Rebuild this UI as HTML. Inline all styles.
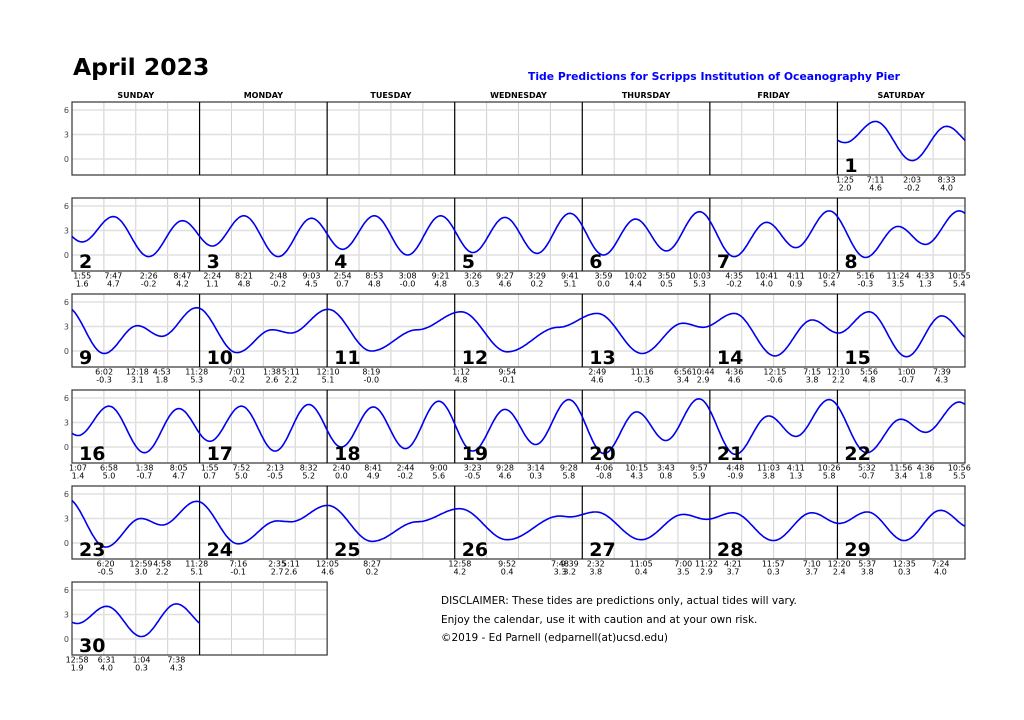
<!DOCTYPE html>
<html><head><meta charset="utf-8"><style>
body{margin:0;background:#fff;font-family:"DejaVu Sans","Liberation Sans",sans-serif;}
#c{position:relative;width:1024px;height:720px;overflow:hidden}
</style></head><body>
<div id="c">
<svg id="s" width="1024" height="720" xmlns="http://www.w3.org/2000/svg">
<text x="73" y="75" font-size="23.5" font-weight="bold" font-family="DejaVu Sans, sans-serif">April 2023</text>
<text x="900" y="80" font-size="10.8" font-weight="bold" fill="#0000ff" text-anchor="end" font-family="DejaVu Sans, sans-serif">Tide Predictions for Scripps Institution of Oceanography Pier</text>
<g font-size="10.5" font-family="DejaVu Sans, sans-serif" fill="#000">
<text x="441" y="604">DISCLAIMER: These tides are predictions only, actual tides will vary.</text>
<text x="441" y="623">Enjoy the calendar, use it with caution and at your own risk.</text>
<text x="441" y="641">©2019 - Ed Parnell (edparnell(at)ucsd.edu)</text>
</g>
</svg>
</div>
<script>
const dayNames=['SUNDAY','MONDAY','TUESDAY','WEDNESDAY','THURSDAY','FRIDAY','SATURDAY'];
const tideDays=[0,1,1,1,1,2,2,2,2,3,3,3,3,4,4,4,4,5,5,5,5,6,6,6,6,7,7,7,7,8,8,8,8,9,9,9,9,10,10,10,11,11,12,12,13,13,13,13,14,14,14,15,15,15,15,16,16,16,16,17,17,17,17,18,18,18,18,19,19,19,19,20,20,20,20,21,21,21,21,22,22,22,22,23,23,23,23,24,24,24,25,25,26,26,26,26,27,27,27,27,28,28,28,29,29,29,29,30,30,30,30,31];
const tideTimes=['20:00','01:25','07:11','14:03','20:33','01:55','07:47','14:26','20:47','02:24','08:21','14:48','21:03','02:54','08:53','15:08','21:21','03:26','09:27','15:29','21:41','03:59','10:02','15:50','22:03','04:35','10:41','16:11','22:27','05:16','11:24','16:33','22:55','06:02','12:18','16:53','23:28','07:01','13:38','17:11','00:10','08:19','01:12','09:54','02:49','11:16','18:56','22:44','04:36','12:15','19:15','00:10','05:56','13:00','19:39','01:07','06:58','13:38','20:05','01:55','07:52','14:13','20:32','02:40','08:41','14:44','21:00','03:23','09:28','15:14','21:28','04:06','10:15','15:43','21:57','04:48','11:03','16:11','22:26','05:32','11:56','16:36','22:56','06:20','12:59','16:58','23:28','07:16','14:35','17:11','00:05','08:27','00:58','09:52','19:48','21:39','02:32','11:05','19:00','23:22','04:21','11:57','19:10','00:20','05:37','12:35','19:24','00:58','06:31','13:04','19:38','01:30'];
const tideHeights=[4.0,2.0,4.6,-0.2,4.0,1.6,4.7,-0.2,4.2,1.1,4.8,-0.2,4.5,0.7,4.8,-0.0,4.8,0.3,4.6,0.2,5.1,0.0,4.4,0.5,5.3,-0.2,4.0,0.9,5.4,-0.3,3.5,1.3,5.4,-0.3,3.1,1.8,5.3,-0.2,2.6,2.2,5.1,-0.0,4.8,-0.1,4.6,-0.3,3.4,2.9,4.6,-0.6,3.8,2.2,4.8,-0.7,4.3,1.4,5.0,-0.7,4.7,0.7,5.0,-0.5,5.2,0.0,4.9,-0.2,5.6,-0.5,4.6,0.3,5.8,-0.8,4.3,0.8,5.9,-0.9,3.8,1.3,5.8,-0.7,3.4,1.8,5.5,-0.5,3.0,2.2,5.1,-0.1,2.7,2.6,4.6,0.2,4.2,0.4,3.3,3.2,3.8,0.4,3.5,2.9,3.7,0.3,3.7,2.4,3.8,0.3,4.0,1.9,4.0,0.3,4.3,1.5];
// unlabeled shoulder (stand) points
const shoulderDays=[11,12,25];
const shoulderTimes=['17:00','19:30','17:00'];
const shoulderHeights=[2.6,2.9,2.6];
const yTicks=[6,3,0];

const NS='http://www.w3.org/2000/svg';
const svg=document.getElementById('s');
const X0=72,CW=127.57,ROW0=102,RH=73,RSTEP=96,PPF=8.17,ZERO=57;
function mk(t,a,p){const e=document.createElementNS(NS,t);for(const k in a)e.setAttribute(k,a[k]);(p||svg).appendChild(e);return e;}
function toAbs(d,s){const [h,m]=s.split(':').map(Number);return (d-1)*24+h+m/60;}
const nodes=[];
for(let i=0;i<tideDays.length;i++)nodes.push([toAbs(tideDays[i],tideTimes[i]),tideHeights[i]]);
for(let i=0;i<shoulderDays.length;i++)nodes.push([toAbs(shoulderDays[i],shoulderTimes[i]),shoulderHeights[i]]);
nodes.sort((a,b)=>a[0]-b[0]);
function cellOf(d){const k=d+5;return {r:Math.floor(k/7),c:k%7};}
function xOf(c,hr){return X0+c*CW+hr/24*CW;}
function yOf(r,h){return ROW0+r*RSTEP+ZERO-h*PPF;}
function level(t){
  for(let i=0;i<nodes.length-1;i++){const a=nodes[i][0],b=nodes[i+1][0];
    if(t>=a&&t<=b){const f=(t-a)/(b-a);const h0=nodes[i][1],h1=nodes[i+1][1];return h1+(h0-h1)*(1+Math.cos(Math.PI*f))/2;}}
  return 0;
}
dayNames.forEach((n,i)=>{const t=mk('text',{x:X0+i*CW+CW/2,y:98,'font-size':8,'font-weight':'bold','text-anchor':'middle'});t.textContent=n;

});
const rowsCols=[[6,6],[0,6],[0,6],[0,6],[0,6],[0,1]];
rowsCols.forEach(([c0,c1],r)=>{
  const top=ROW0+r*RSTEP;
  const g=mk('g',{});
  
  
  const left=X0, right=r===0?X0+7*CW:X0+(c1+1)*CW;
  for(let c=0;c<=(r===0?6:c1);c++){for(let q=1;q<4;q++){mk('line',{x1:xOf(c,q*6),x2:xOf(c,q*6),y1:top,y2:top+RH,stroke:'#d0d0d0','stroke-width':1},g);}}
  yTicks.forEach(v=>{const y=yOf(r,v);mk('line',{x1:left,x2:right,y1:y,y2:y,stroke:'#e0e0e0','stroke-width':1.5},g);
    const t=mk('text',{x:left-3,y:y+3,'font-size':8,fill:'#444','text-anchor':'end'},g);t.textContent=v;
    
    });
  mk('rect',{x:left,y:top,width:right-left,height:RH,fill:'none',stroke:'#333','stroke-width':1.2},g);
  for(let c=1;c<=(r===0?6:c1);c++)mk('line',{x1:X0+c*CW,x2:X0+c*CW,y1:top,y2:top+RH,stroke:'#000','stroke-width':1.2},g);
});
for(let d=1;d<=30;d++){
  const {r,c}=cellOf(d);
  let pts=[];for(let s=0;s<=96;s++){const hr=s/4;pts.push(xOf(c,hr).toFixed(1)+','+yOf(r,level((d-1)*24+hr)).toFixed(1));}
  const p=mk('polyline',{points:pts.join(' '),fill:'none',stroke:'#0000ee','stroke-width':1.6});
  
  
  const n=mk('text',{x:X0+c*CW+7,y:ROW0+r*RSTEP+RH-3,'font-size':19,'font-weight':'bold'});n.textContent=d;
  
  
  for(let i=0;i<tideDays.length;i++){if(tideDays[i]!==d)continue;
    const [h,m]=tideTimes[i].split(':').map(Number);const x=xOf(c,h+m/60);
    const tt=mk('text',{x:x,y:ROW0+r*RSTEP+RH+7.5,'font-size':8,'text-anchor':'middle'});
    tt.textContent=((h%12)||12)+':'+String(m).padStart(2,'0');
    
    
    const th=mk('text',{x:x,y:ROW0+r*RSTEP+RH+15.5,'font-size':8,'text-anchor':'middle'});
    th.textContent=(Object.is(tideHeights[i],-0))?'-0.0':tideHeights[i].toFixed(1);
    
    
  }
}
</script>
</body></html>
